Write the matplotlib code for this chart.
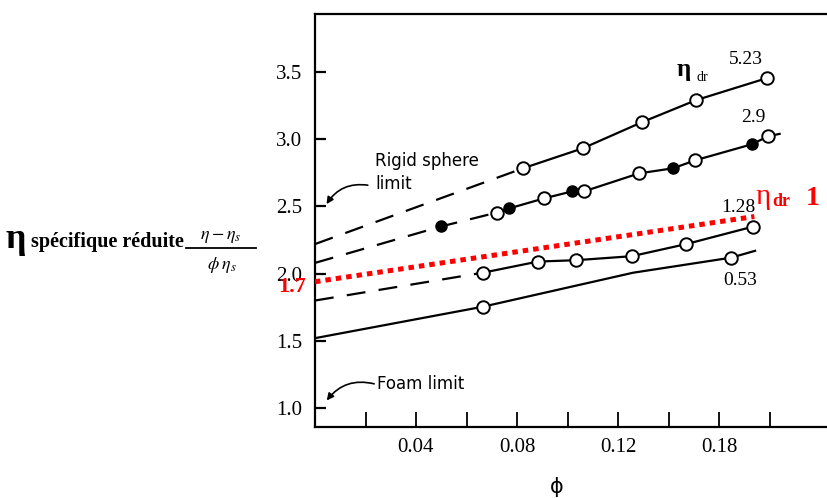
import numpy as np
import matplotlib.pyplot as plt

plt.rcParams['font.family'] = ['Liberation Serif', 'DejaVu Serif']
plt.rcParams['mathtext.fontset'] = 'stix'

# eta_dr = 5.23
phi_523 = [0.0824, 0.1061, 0.1295, 0.1509, 0.1790]
eta_523 = [2.784, 2.933, 3.127, 3.291, 3.455]
ext_523 = 2.22          # extrapolation at phi = 0

# eta_dr = 2.9 (open and filled symbols)
phi_29_open = [0.0721, 0.0907, 0.1065, 0.1283, 0.1505, 0.1794]
eta_29_open = [2.455, 2.560, 2.612, 2.746, 2.843, 3.022]
phi_29_full = [0.0499, 0.0768, 0.1018, 0.1418, 0.1731]
eta_29_full = [2.351, 2.485, 2.612, 2.784, 2.963]
ext_29 = 2.08
end_29 = [0.184, 3.04]

# eta_dr = 1.28
phi_128 = [0.0665, 0.0883, 0.1033, 0.1255, 0.1470, 0.1735]
eta_128 = [2.007, 2.090, 2.100, 2.130, 2.220, 2.350]
ext_128 = 1.80

# eta_dr = 0.53
phi_053_line = [0.0, 0.0665, 0.126, 0.1648, 0.1743]
eta_053_line = [1.52, 1.754, 2.007, 2.119, 2.17]
phi_053 = [0.0665, 0.1648]
eta_053 = [1.754, 2.119]

# red dotted line (eta_dr = 1)
phi_red = [0.0, 0.174]
eta_red = [1.94, 2.425]

xtick_pos = [0.04, 0.08, 0.12, 0.16]
xtick_lab = ['0.04', '0.08', '0.12', '0.18']
ytick_pos = [1.0, 1.5, 2.0, 2.5, 3.0, 3.5]

W, H = 827, 498
fig = plt.figure(figsize=(W / 100, H / 100), dpi=100)
ax = fig.add_axes([315 / W, 1 - 427 / H, 525 / W, 413 / H])
ax.set_xlim(0, 525 / 2525)
ax.set_ylim(0.859, 3.932)

lw = 1.6
dash = (0, (8.5, 6))
op = dict(marker='o', ms=9, mfc='white', mec='black', mew=1.4, ls='none', zorder=3)
fp = dict(marker='o', ms=8, mfc='black', mec='black', ls='none', zorder=3)

# 5.23
ax.plot([0, phi_523[0]], [ext_523, eta_523[0]], color='black', lw=lw, ls=dash)
ax.plot(phi_523, eta_523, color='black', lw=lw)
ax.plot(phi_523, eta_523, **op)

# 2.9
ax.plot([0, phi_29_full[0], phi_29_open[0]], [ext_29, eta_29_full[0], eta_29_open[0]],
        color='black', lw=lw, ls=dash)
pts = sorted(zip(phi_29_open + phi_29_full[1:] + [end_29[0]], eta_29_open + eta_29_full[1:] + [end_29[1]]))
ax.plot([p[0] for p in pts], [p[1] for p in pts], color='black', lw=lw)
ax.plot(phi_29_full, eta_29_full, **fp)
ax.plot(phi_29_open, eta_29_open, **op)

# 1.28
ax.plot([0, phi_128[0]], [ext_128, eta_128[0]], color='black', lw=lw, ls=dash)
ax.plot(phi_128, eta_128, color='black', lw=lw)
ax.plot(phi_128, eta_128, **op)

# 0.53
ax.plot(phi_053_line, eta_053_line, color='black', lw=lw)
ax.plot(phi_053, eta_053, **op)

# red dotted
ax.plot(phi_red, eta_red, color='red', lw=3.6, ls=(0, (1.1, 1.0)), zorder=4)

# curve labels
ax.text(0.1462, 3.52, 'η', fontsize=18, fontweight='bold', ha='center', va='center')
ax.text(0.1535, 3.46, 'dr', fontsize=10, ha='center', va='center')
ax.text(0.1705, 3.59, '5.23', fontsize=14, ha='center', va='center')
ax.text(0.1735, 3.16, '2.9', fontsize=14, ha='center', va='center')
ax.text(0.1675, 2.49, '1.28', fontsize=14, ha='center', va='center')
ax.text(0.1685, 1.95, '0.53', fontsize=14, ha='center', va='center')

# red annotations
ax.text(0.1775, 2.57, 'η', color='red', fontsize=21, ha='center', va='center')
ax.text(0.1845, 2.535, 'dr', color='red', fontsize=13, fontweight='bold', ha='center', va='center')
ax.text(0.197, 2.56, '1', color='red', fontsize=20, fontweight='bold', ha='center', va='center')
ax.text(-0.0091, 1.90, '1.7', color='red', fontsize=16, fontweight='bold', ha='center', va='center')

# limits
ax.annotate('', xy=(0.004, 2.50), xytext=(0.022, 2.655),
            arrowprops=dict(arrowstyle='-|>', color='black', lw=1.2,
                            connectionstyle='arc3,rad=0.35', mutation_scale=10))
ax.text(0.0238, 2.84, 'Rigid sphere', family='DejaVu Sans', fontsize=12, va='center')
ax.text(0.0238, 2.665, 'limit', family='DejaVu Sans', fontsize=12, va='center')
ax.annotate('', xy=(0.004, 1.04), xytext=(0.0245, 1.175),
            arrowprops=dict(arrowstyle='-|>', color='black', lw=1.2,
                            connectionstyle='arc3,rad=0.35', mutation_scale=10))
ax.text(0.0245, 1.18, 'Foam limit', family='DejaVu Sans', fontsize=12, va='center')

# axes styling
for s in ['left', 'bottom', 'top']:
    ax.spines[s].set_linewidth(1.6)
ax.spines['right'].set_visible(False)
ax.set_xticks(np.arange(0.02, 0.185, 0.02), minor=True)
ax.set_xticks(xtick_pos)
ax.set_xticklabels(xtick_lab)
ax.set_yticks(ytick_pos)
ax.set_yticklabels([f'{v:.1f}' for v in ytick_pos])
ax.tick_params(axis='x', which='both', direction='in', length=11, width=1.3, labelsize=15, pad=8)
ax.tick_params(axis='y', direction='in', length=8, width=1.6, labelsize=15, pad=9)

# y label
fig.text(6 / W, 1 - 240 / H, 'η', fontsize=26, fontweight='bold', va='center', ha='left')
fig.text(31 / W, 1 - 242 / H, 'spécifique réduite', fontsize=14.5, fontweight='bold',
         va='center', ha='left')
fig.text(221 / W, 1 - 236 / H, r'$\eta - \eta_s$', fontsize=13, va='center', ha='center')
fig.add_artist(plt.Line2D([186 / W, 256 / W], [1 - 248 / H, 1 - 248 / H], color='black', lw=1.3))
fig.text(222 / W, 1 - 265 / H, r'$\phi\;\eta_s$', fontsize=13, va='center', ha='center')

# x label
fig.text(557 / W, 1 - 487 / H, 'ϕ', family='DejaVu Sans', fontsize=15, va='center', ha='center')

fig.savefig('out.png', dpi=100)
